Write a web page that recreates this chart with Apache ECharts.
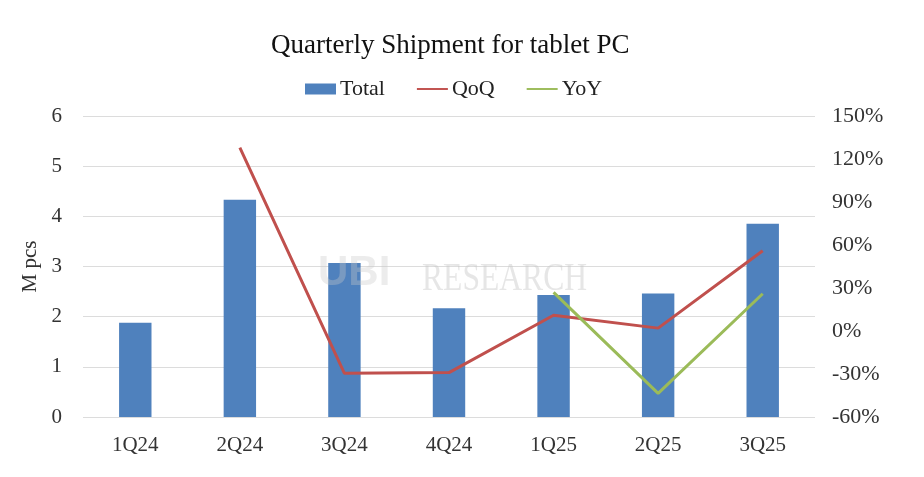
<!DOCTYPE html>
<html>
<head>
<meta charset="utf-8">
<script src="https://cdn.jsdelivr.net/npm/echarts@6/dist/echarts.min.js"></script>
<style>
  html, body { margin: 0; padding: 0; background: #fff; }
  #main { width: 924px; height: 477px; }
</style>
</head>
<body>
<div id="main"></div>
<script>
const quarters = ['1Q24', '2Q24', '3Q24', '4Q24', '1Q25', '2Q25', '3Q25'];
// shipments, M pcs
const total = [1.88, 4.33, 3.07, 2.17, 2.43, 2.46, 3.85];
// growth rates, %
const qoq = [null, 128, -29.5, -29, 11, 2, 56];
const yoy = [null, null, null, null, 27, -43.5, 26];

var chartDom = document.getElementById('main');
var myChart = echarts.init(chartDom);
var serif = 'Liberation Serif';
var lineIcon = 'path://M0,5 L32,5 L32,7 L0,7 Z';

var option = {
    textStyle: { fontFamily: serif },
    title: {
        text: 'Quarterly Shipment for tablet PC',
        left: 266,
        top: 27,
        textStyle: { fontFamily: serif, fontSize: 27, fontWeight: 'normal', color: '#111' }
    },
    legend: {
        top: 73,
        left: 300,
        itemGap: 32,
        itemWidth: 31,
        itemHeight: 11,
        textStyle: { fontFamily: serif, fontSize: 22, color: '#222', padding: [0, 0, 0, -1] },
        data: [
            { name: 'Total', icon: 'rect' },
            { name: 'QoQ', icon: lineIcon },
            { name: 'YoY', icon: lineIcon }
        ]
    },
    grid: { left: 83, right: 109, top: 116, bottom: 60 },
    graphic: [
        {
            type: 'text',
            left: 318,
            top: 252,
            z: 10,
            style: {
                text: 'UBI',
                font: 'bold 42px "Liberation Sans"',
                fill: 'rgba(200,200,200,0.35)'
            }
        },
        {
            type: 'text',
            left: 422,
            top: 259,
            z: 10,
            scaleX: 0.79,
            style: {
                text: 'RESEARCH',
                font: '40px "Liberation Serif"',
                fill: 'rgba(200,200,200,0.45)'
            }
        }
    ],
    xAxis: {
        type: 'category',
        data: quarters,
        axisLine: { show: false },
        axisTick: { show: false },
        axisLabel: { fontFamily: serif, fontSize: 21, color: '#333', margin: 18 }
    },
    yAxis: [
        {
            type: 'value',
            min: 0,
            max: 6,
            interval: 1,
            name: 'M pcs',
            nameLocation: 'middle',
            nameGap: 42,
            nameRotate: 90,
            nameTextStyle: { fontFamily: serif, fontSize: 21, color: '#333' },
            axisLabel: { fontFamily: serif, fontSize: 21, color: '#333', margin: 21 },
            splitLine: { lineStyle: { color: '#dcdcdc', width: 1 } }
        },
        {
            type: 'value',
            min: -60,
            max: 150,
            interval: 30,
            axisLabel: { fontFamily: serif, fontSize: 22, color: '#333', margin: 17, formatter: '{value}%' },
            splitLine: { show: false }
        }
    ],
    series: [
        {
            name: 'Total',
            type: 'bar',
            data: total,
            barWidth: '31%',
            itemStyle: { color: '#4F81BD' },
            z: 2
        },
        {
            name: 'QoQ',
            type: 'line',
            yAxisIndex: 1,
            data: qoq,
            symbol: 'none',
            lineStyle: { color: '#C0504D', width: 3 },
            itemStyle: { color: '#C0504D' },
            z: 3
        },
        {
            name: 'YoY',
            type: 'line',
            yAxisIndex: 1,
            data: yoy,
            symbol: 'none',
            lineStyle: { color: '#9BBB59', width: 3 },
            itemStyle: { color: '#9BBB59' },
            z: 4
        }
    ]
};
myChart.setOption(option);

window.onresize = function() {
    myChart.resize();
};
</script>
</body>
</html>
